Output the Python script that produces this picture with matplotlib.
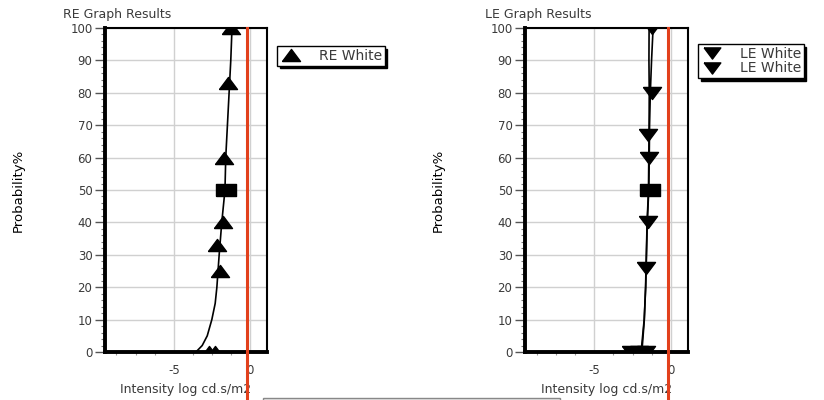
import matplotlib
matplotlib.use('Agg')
import matplotlib.pyplot as plt
from matplotlib.ticker import MultipleLocator, FixedLocator
from matplotlib.patches import Rectangle
from matplotlib.lines import Line2D

# values
prob_ticks = [0, 10, 20, 30, 40, 50, 60, 70, 80, 90, 100]
x_ticks = [-5, 0]
red_line_x = -0.2

# RE panel
re_curve_y = [0, 2, 5, 10, 15, 20, 30, 40, 50, 60, 70, 80, 90, 100]
re_curve_x = [-3.55, -3.14, -2.81, -2.51, -2.29, -2.18, -2.03, -1.86, -1.65, -1.6, -1.49, -1.38, -1.27, -1.19]
re_tri_x = [-1.27, -1.43, -1.71, -1.77, -2.16, -1.97, -2.7, -2.3]
re_tri_y = [100, 83, 60, 40, 33, 25, 0, 0]
re_mid_x = [-1.58]
re_mid_y = [50]

# LE panel
le_curve_y = [0, 5, 10, 20, 30, 40, 50, 60, 70, 80, 90, 100]
le_curve_a_x = [-1.95, -1.85, -1.75, -1.65, -1.6, -1.55, -1.45, -1.42, -1.4, -1.35, -1.27, -1.17]
le_curve_b_x = [-1.9, -1.82, -1.74, -1.66, -1.61, -1.56, -1.47, -1.45, -1.43, -1.42, -1.44, -1.43]
le_tri_x = [-1.25, -1.27, -1.47, -1.45, -1.52, -1.6, -2.6, -2.1, -1.6]
le_tri_y = [100, 80, 67, 60, 40, 26, 0, 0, 0]
le_mid_x = [-1.4]
le_mid_y = [50]

text_col = '#3a3a3a'
# wide marker shapes like the original software draws
rect_marker = [(-1, -0.62), (1, -0.62), (1, 0.62), (-1, 0.62), (-1, -0.62)]
up_marker = [(-1, -0.67), (1, -0.67), (0, 0.67), (-1, -0.67)]
down_marker = [(-1, 0.67), (1, 0.67), (0, -0.67), (-1, 0.67)]

fig = plt.figure(figsize=(8.24, 4), dpi=100)


def setup_axes(ax, title, title_x):
    ax.set_xlim(-9.5, 1.1)
    ax.set_ylim(0, 100)
    ax.yaxis.set_major_locator(FixedLocator(prob_ticks))
    ax.yaxis.set_minor_locator(MultipleLocator(2))
    ax.xaxis.set_major_locator(FixedLocator(x_ticks))
    ax.xaxis.set_minor_locator(MultipleLocator(1.25))
    ax.set_xticklabels(['-5', '0'])
    ax.tick_params(axis='y', which='major', direction='out', length=7, width=1,
                   color='#555555', labelsize=8.5, labelcolor=text_col, pad=2)
    ax.tick_params(axis='y', which='minor', direction='out', length=3, width=0.8, color='#777777')
    ax.tick_params(axis='x', which='major', length=0, labelsize=8.5, labelcolor=text_col, pad=9)
    ax.tick_params(axis='x', which='minor', direction='out', length=2, width=0.8, color='#999999')
    ax.grid(True, which='major', color='#d0d0d0', linewidth=1)
    ax.set_axisbelow(True)
    for side in ['left', 'bottom']:
        ax.spines[side].set_linewidth(2.8)
    for side in ['top', 'right']:
        ax.spines[side].set_linewidth(1.5)
    ax.set_xlabel('Intensity log cd.s/m2', fontsize=9, color=text_col, labelpad=4)
    ax.set_ylabel('Probability%', fontsize=9.5, color='black', labelpad=33,
                  family=['Liberation Sans Narrow', 'DejaVu Sans'])
    fig.text(title_x, 0.963, title, fontsize=9, color=text_col, ha='left', va='center')
    ax.axvline(red_line_x, ymin=-0.15, ymax=1, color='#e2401c', linewidth=2.2,
               clip_on=False, zorder=5)


# left panel
ax1 = fig.add_axes([105 / 824, 0.12, 162 / 824, 0.81])
setup_axes(ax1, 'RE Graph Results', 63 / 824)
ax1.plot(re_curve_x, re_curve_y, color='black', linewidth=1.2, zorder=3)
ax1.plot(re_tri_x, re_tri_y, linestyle='none', marker=up_marker, markersize=13,
         color='black', zorder=4, label='RE White')
ax1.plot(re_mid_x, re_mid_y, linestyle='none', marker=rect_marker, markersize=15,
         color='black', zorder=4)
leg1 = ax1.legend(loc='upper left', bbox_to_anchor=(277 / 824, 1 - 46 / 400),
                  bbox_transform=fig.transFigure, fontsize=10, frameon=True,
                  fancybox=False, shadow={'color': 'black', 'alpha': 1},
                  edgecolor='black', borderpad=0.2, handletextpad=1.2,
                  handlelength=1.6, borderaxespad=0)
leg1.get_frame().set_linewidth(1)
for t in leg1.get_texts():
    t.set_color(text_col)

# right panel
ax2 = fig.add_axes([525 / 824, 0.12, 163 / 824, 0.81])
setup_axes(ax2, 'LE Graph Results', 485 / 824)
ax2.plot(le_curve_a_x, le_curve_y, color='black', linewidth=1.2, zorder=3)
ax2.plot(le_curve_b_x, le_curve_y, color='black', linewidth=1.2, zorder=3)
ax2.plot(le_tri_x, le_tri_y, linestyle='none', marker=down_marker, markersize=13,
         color='black', zorder=4)
ax2.plot(le_mid_x, le_mid_y, linestyle='none', marker=rect_marker, markersize=15,
         color='black', zorder=4)
le_handles = [Line2D([], [], linestyle='none', marker=down_marker, markersize=12, color='black'),
              Line2D([], [], linestyle='none', marker=down_marker, markersize=12, color='black')]
leg2 = ax2.legend(le_handles, ['LE White', 'LE White'], loc='upper left',
                  bbox_to_anchor=(698 / 824, 1 - 44 / 400), bbox_transform=fig.transFigure,
                  fontsize=10, frameon=True, fancybox=False,
                  shadow={'color': 'black', 'alpha': 1}, edgecolor='black',
                  borderpad=0.2, handletextpad=1.2, handlelength=1.6,
                  labelspacing=0.05, borderaxespad=0)
leg2.get_frame().set_linewidth(1)
for t in leg2.get_texts():
    t.set_color(text_col)

# cut-off button at the bottom edge
fig.patches.append(Rectangle((263 / 824, -0.02), (560 - 263) / 824, 0.026,
                             transform=fig.transFigure, facecolor='#e6e6e6',
                             edgecolor='#888888', linewidth=1))

fig.savefig('out.png', dpi=100)
